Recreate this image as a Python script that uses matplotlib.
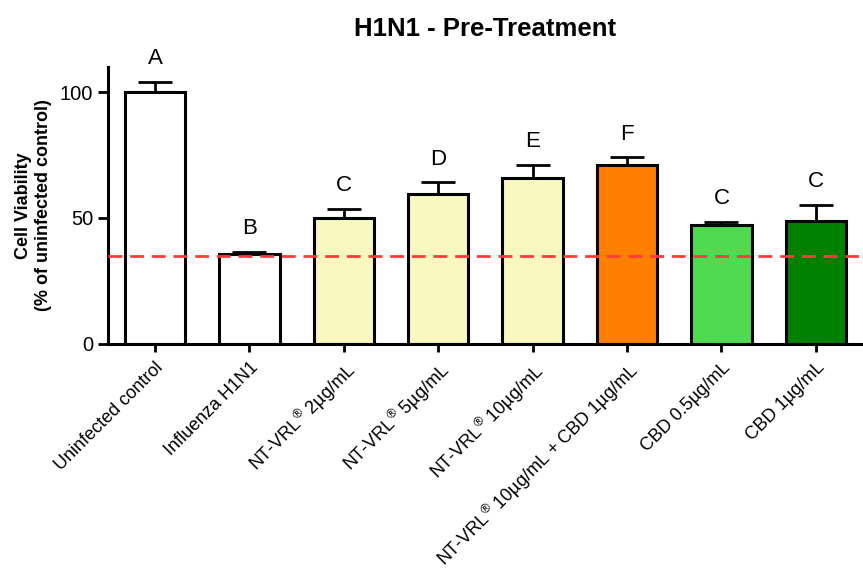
import numpy as np
import matplotlib
matplotlib.use('Agg')
import matplotlib.pyplot as plt

plt.rcParams['font.family'] = ['Liberation Sans', 'DejaVu Sans']
plt.rcParams['mathtext.fontset'] = 'custom'
plt.rcParams['mathtext.rm'] = 'Liberation Sans'
plt.rcParams['mathtext.it'] = 'Liberation Sans'

# data
groups = ['Uninfected control', 'Influenza H1N1',
          r'NT-VRL$^{®}$ 2µg/mL', r'NT-VRL$^{®}$ 5µg/mL',
          r'NT-VRL$^{®}$ 10µg/mL', r'NT-VRL$^{®}$ 10µg/mL + CBD 1µg/mL',
          'CBD 0.5µg/mL', 'CBD 1µg/mL']
viability = [100.0, 35.5, 50.0, 59.6, 65.7, 71.1, 47.1, 48.9]
sem = [4.0, 1.0, 3.7, 4.5, 5.3, 3.0, 1.4, 6.3]
letters = ['A', 'B', 'C', 'D', 'E', 'F', 'C', 'C']
virus_level = 34.7

colors = ['white', 'white', '#F8F8C0', '#F8F8C0', '#F8F8C0',
          '#FF7F00', '#50DA50', '#008000']

fig = plt.figure(figsize=(8.63, 5.76), dpi=100)
ax = fig.add_axes([0.125, 0.403, 0.875, 0.481])

x = np.arange(len(groups))
ax.bar(x, viability, width=0.64, color=colors, edgecolor='black',
       linewidth=2.2, zorder=2)
ax.errorbar(x, viability, yerr=[np.zeros(len(sem)), sem], fmt='none',
            ecolor='black', elinewidth=2.0, capsize=12, capthick=2.0, zorder=1)

for xi, v, e, lab in zip(x, viability, sem, letters):
    ax.text(xi, v + e + 5, lab, ha='center', va='bottom', fontsize=16)

ax.axhline(virus_level, color='#FF3B3B', linestyle=(0, (5, 2.8)),
           linewidth=2.0, zorder=3)

ax.set_xlim(-0.5, 7.5)
ax.set_ylim(0, 110)
ax.set_yticks([0, 50, 100])
ax.set_xticks(x)
ax.set_xticklabels(groups, rotation=45, ha='right', rotation_mode='anchor',
                   fontsize=13)
ax.tick_params(axis='y', labelsize=14.5, width=2, length=7)
ax.tick_params(axis='x', width=2, length=6, pad=5)

for side in ['top', 'right']:
    ax.spines[side].set_visible(False)
for side in ['left', 'bottom']:
    ax.spines[side].set_linewidth(2.2)

ax.set_ylabel('Cell Viability\n(% of uninfected control)', fontsize=13,
              fontweight='bold', labelpad=6)
ax.set_title('H1N1 - Pre-Treatment', fontsize=18.5, fontweight='bold', pad=22)

fig.savefig('out.png', dpi=100)
